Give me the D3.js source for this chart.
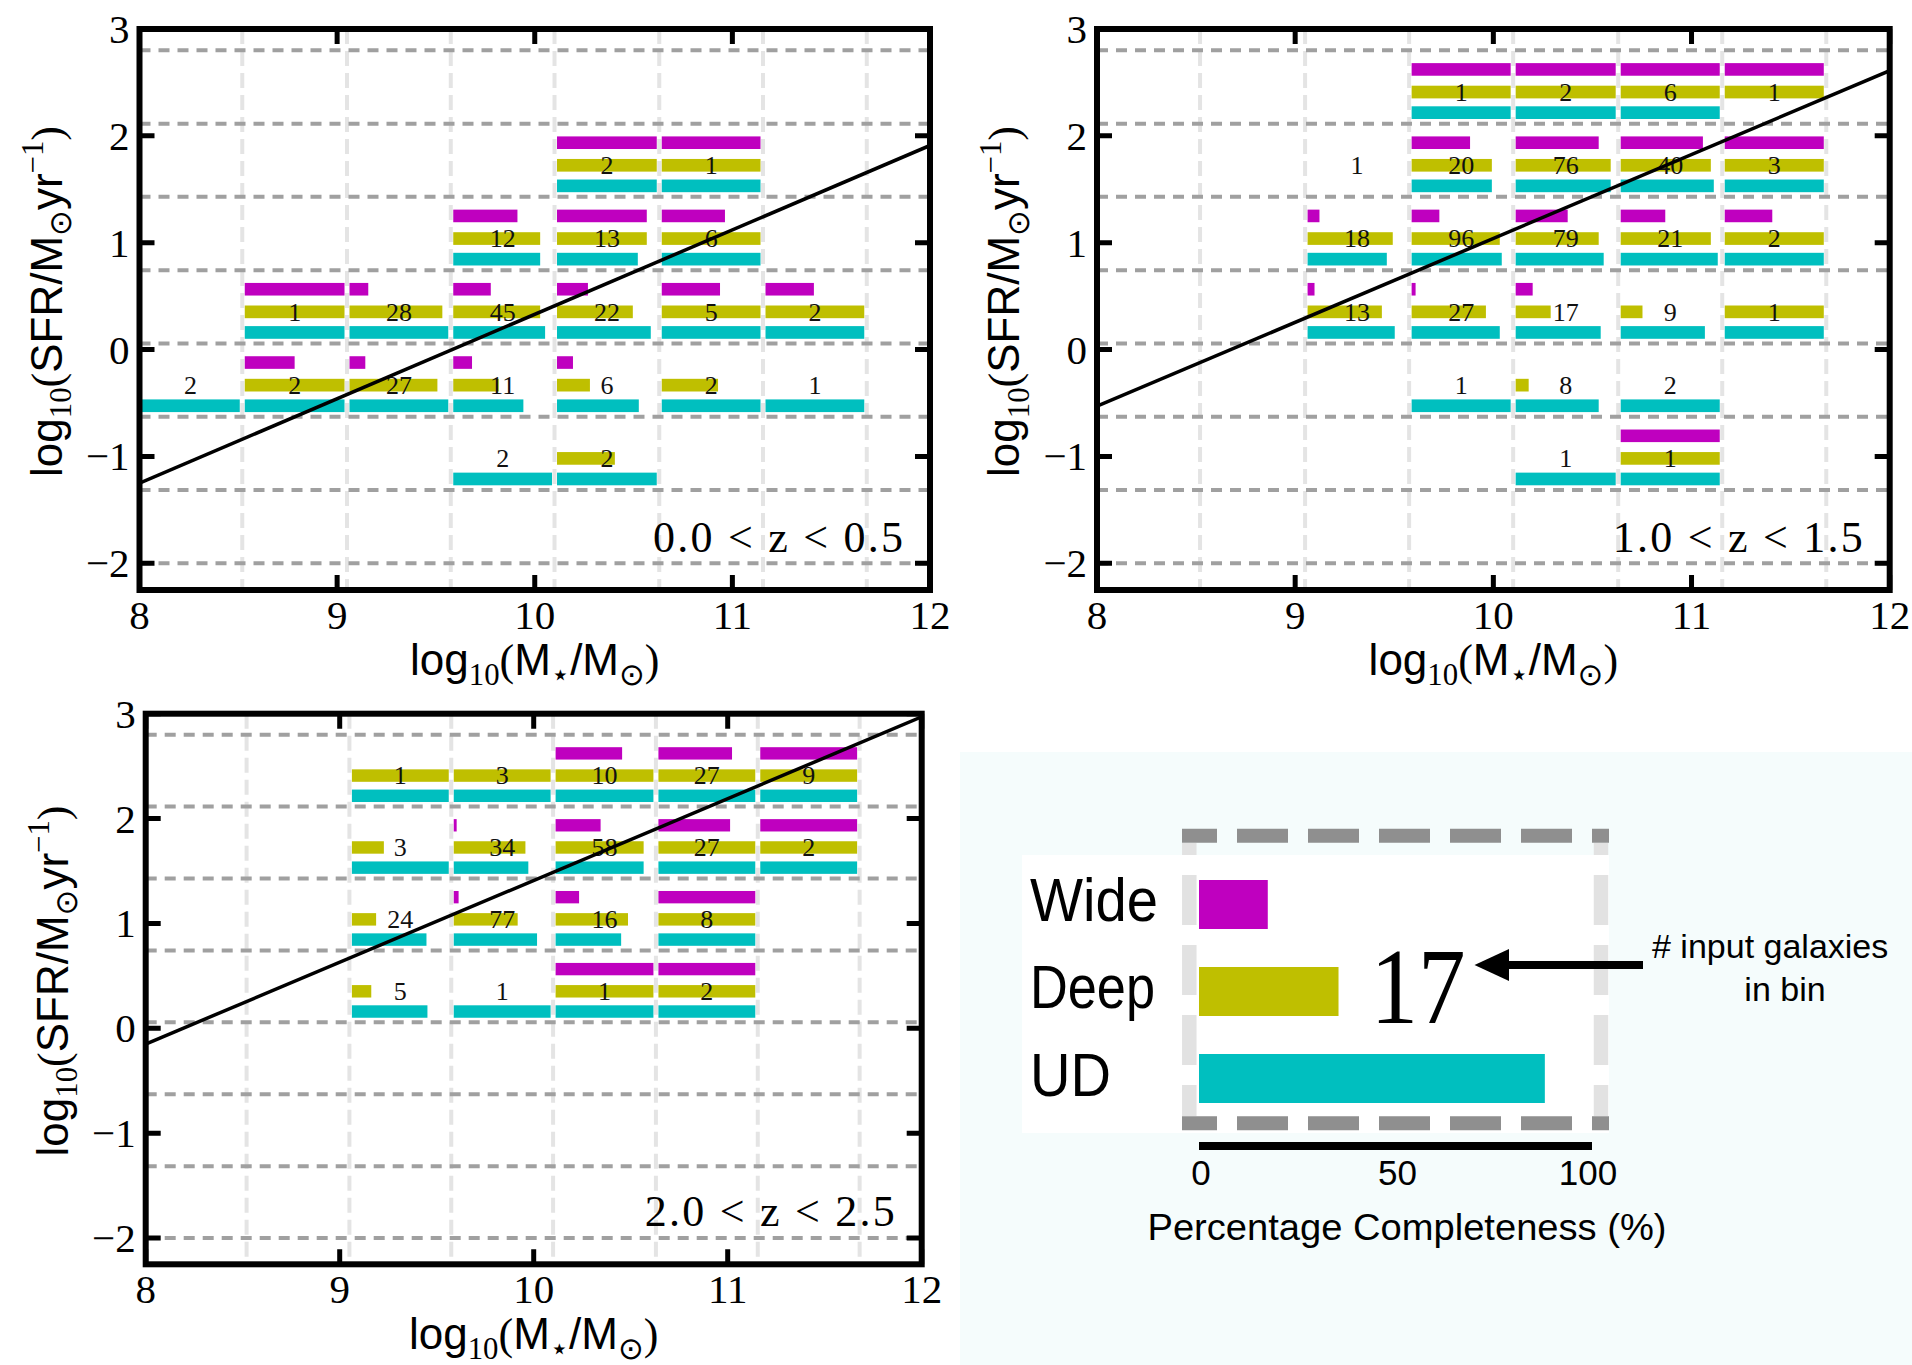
<!DOCTYPE html>
<html>
<head>
<meta charset="utf-8">
<script src="https://cdn.jsdelivr.net/npm/d3@7"></script>
<style>body{margin:0;background:#fff}</style>
</head>
<body>
<div id="chart"></div>
<script>
// Completeness grid in the SFR - stellar mass plane, three redshift slices + legend
const W = 1912, H = 1365;
const SERIF = "'Liberation Serif', 'DejaVu Serif', serif";
const SANS = "'Liberation Sans', 'DejaVu Sans', sans-serif";

// bin edges (log M*, log SFR)
const xEdges = [7.995, 8.52, 9.05, 9.575, 10.1, 10.63, 11.155, 11.68];
const yEdges = [-2.0, -1.314, -0.629, 0.057, 0.743, 1.429, 2.114, 2.8];
const xTicks = [8, 9, 10, 11, 12];
const yTicks = [-2, -1, 0, 1, 2, 3];

// cells: [col, row, n input galaxies, Wide %, Deep %, UD %]
const cellsZ1 = [
  [4, 5, 2, 100, 100, 100], [5, 5, 1, 100, 100, 100],
  [3, 4, 12, 65, 88, 88], [4, 4, 13, 90, 90, 81], [5, 4, 6, 64, 100, 100],
  [1, 3, 1, 100, 100, 100], [2, 3, 28, 19, 94, 100], [3, 3, 45, 38, 88, 93],
  [4, 3, 22, 31, 76, 94], [5, 3, 5, 59, 100, 100], [6, 3, 2, 49, 100, 100],
  [0, 2, 2, 0, 0, 100], [1, 2, 2, 50, 100, 100], [2, 2, 27, 16, 89, 100],
  [3, 2, 11, 19, 46, 71], [4, 2, 6, 16, 33, 82], [5, 2, 2, 0, 57, 100], [6, 2, 1, 0, 0, 100],
  [3, 1, 2, 0, 0, 100], [4, 1, 2, 0, 58, 100]
];
const cellsZ2 = [
  [3, 6, 1, 100, 100, 100], [4, 6, 2, 100, 100, 100], [5, 6, 6, 100, 100, 100], [6, 6, 1, 100, 100, 0],
  [2, 5, 1, 0, 0, 0], [3, 5, 20, 59, 81, 81], [4, 5, 76, 83, 95, 95], [5, 5, 40, 83, 91, 94], [6, 5, 3, 100, 100, 100],
  [2, 4, 18, 12, 86, 80], [3, 4, 96, 28, 89, 91], [4, 4, 79, 52, 83, 88], [5, 4, 21, 45, 91, 98], [6, 4, 2, 48, 100, 100],
  [2, 3, 13, 7, 75, 88], [3, 3, 27, 4, 75, 89], [4, 3, 17, 17, 35, 85], [5, 3, 9, 0, 22, 85], [6, 3, 1, 0, 100, 100],
  [3, 2, 1, 0, 0, 100], [4, 2, 8, 0, 13, 83], [5, 2, 2, 0, 0, 100],
  [4, 1, 1, 0, 0, 100], [5, 1, 1, 100, 100, 100]
];
const cellsZ3 = [
  [2, 6, 1, 0, 100, 100], [3, 6, 3, 0, 100, 100], [4, 6, 10, 68, 100, 100], [5, 6, 27, 76, 100, 100], [6, 6, 9, 100, 100, 100],
  [2, 5, 3, 0, 33, 100], [3, 5, 34, 3, 74, 77], [4, 5, 58, 46, 90, 90], [5, 5, 27, 74, 100, 100], [6, 5, 2, 100, 100, 100],
  [2, 4, 24, 0, 25, 77], [3, 4, 77, 5, 66, 86], [4, 4, 16, 24, 74, 67], [5, 4, 8, 100, 100, 100],
  [2, 3, 5, 0, 20, 78], [3, 3, 1, 0, 0, 100], [4, 3, 1, 100, 100, 100], [5, 3, 2, 100, 100, 100]
];
const zLabels = ["0.0 < z < 0.5", "1.0 < z < 1.5", "2.0 < z < 2.5"];
// main-sequence line: log SFR at log M* = 8 and 12
const msAt8 = [-1.25, -0.53, -0.15];
const msAt12 = [1.91, 2.61, 2.97];

// legend example cell
const surveys = ["Wide", "Deep", "UD"];
const surveyColors = ["#bf00bf", "#bfbf00", "#00bfbf"];
const legendPct = [17.5, 35.5, 88];
const legendCount = 17;
const pctTicks = [0, 50, 100];

const svg = d3.select("#chart").append("svg")
  .attr("width", W).attr("height", H)
  .attr("viewBox", `0 0 ${W} ${H}`);

svg.append("rect").attr("width", W).attr("height", H).attr("fill", "#fff");

// pixel boxes of the three panels
const panels = [
  {cells: cellsZ1, l: 139.5, r: 930, t: 29, b: 590},
  {cells: cellsZ2, l: 1097, r: 1889.7, t: 29, b: 590},
  {cells: cellsZ3, l: 145.7, r: 921.7, t: 713.7, b: 1264.3}
];

// vertical position of the three bars inside a row (fraction from row top)
const barFrac = [[0.174, 0.346], [0.482, 0.655], [0.763, 0.936]];

function addMath(sel, parts, size) {
  let shift = 0;
  parts.forEach(p => {
    const target = p.sub ? size * 0.22 : p.sup ? -size * 0.42 : 0;
    sel.append("tspan")
      .attr("dy", target - shift)
      .attr("font-family", p.serif ? SERIF : SANS)
      .attr("font-size", (p.sub || p.sup) ? size * 0.7 : size)
      .text(p.t);
    shift = target;
  });
}

const xLabelParts = [
  {t: "log"}, {t: "10", sub: true, serif: true}, {t: "(", serif: true}, {t: "M"},
  {t: "\u22C6", sub: true}, {t: "/M"}, {t: "\u2299", sub: true}, {t: ")", serif: true}
];
const yLabelParts = [
  {t: "log"}, {t: "10", sub: true, serif: true}, {t: "(", serif: true}, {t: "SFR/M"},
  {t: "\u2299", sub: true}, {t: "yr"}, {t: "\u22121", sup: true, serif: true}, {t: ")", serif: true}
];

panels.forEach((p, pi) => {
  const x = d3.scaleLinear().domain([8, 12]).range([p.l, p.r]);
  const y = d3.scaleLinear().domain([-2.25, 3]).range([p.b, p.t]);
  const g = svg.append("g");

  const clipId = `clip${pi}`;
  svg.append("clipPath").attr("id", clipId).append("rect")
    .attr("x", p.l).attr("y", p.t).attr("width", p.r - p.l).attr("height", p.b - p.t);

  // bin edges
  g.append("g").selectAll("line").data(xEdges.slice(1)).join("line")
    .attr("x1", d => x(d)).attr("x2", d => x(d))
    .attr("y1", p.t).attr("y2", p.b)
    .attr("stroke", "#e4e4e4").attr("stroke-width", 4).attr("stroke-dasharray", "15,7");
  g.append("g").selectAll("line").data(yEdges).join("line")
    .attr("x1", p.l).attr("x2", p.r)
    .attr("y1", d => y(d)).attr("y2", d => y(d))
    .attr("stroke", "#a0a0a0").attr("stroke-width", 4).attr("stroke-dasharray", "11,8");

  // completeness bars
  const bars = [];
  p.cells.forEach(c => {
    const x0 = x(xEdges[c[0]]) + 2.5;
    const full = x(xEdges[c[0] + 1]) - x(xEdges[c[0]]) - 5;
    const yTop = y(yEdges[c[1] + 1]);
    const h = y(yEdges[c[1]]) - yTop;
    const w = d3.scaleLinear().domain([0, 100]).range([0, full]);
    [c[3], c[4], c[5]].forEach((v, k) => {
      if (v > 0) bars.push({x: x0, w: w(v), y: yTop + barFrac[k][0] * h,
        h: (barFrac[k][1] - barFrac[k][0]) * h, fill: surveyColors[k]});
    });
  });
  g.append("g").attr("clip-path", `url(#${clipId})`).selectAll("rect").data(bars).join("rect")
    .attr("x", d => d.x).attr("y", d => d.y).attr("width", d => d.w).attr("height", d => d.h)
    .attr("fill", d => d.fill);

  // counts
  g.append("g").selectAll("text").data(p.cells).join("text")
    .attr("x", d => (x(xEdges[d[0]]) + x(xEdges[d[0] + 1])) / 2)
    .attr("y", d => {
      const yTop = y(yEdges[d[1] + 1]);
      const h = y(yEdges[d[1]]) - yTop;
      return yTop + (barFrac[1][0] + barFrac[1][1]) / 2 * h;
    })
    .attr("dy", "0.34em")
    .attr("text-anchor", "middle").attr("font-family", SERIF).attr("font-size", 26)
    .attr("fill", "#111").text(d => d[2]);

  // main sequence
  g.append("line").attr("clip-path", `url(#${clipId})`)
    .attr("x1", x(8)).attr("y1", y(msAt8[pi])).attr("x2", x(12)).attr("y2", y(msAt12[pi]))
    .attr("stroke", "#000").attr("stroke-width", 3.5);

  // ticks on all four sides, pointing inward
  const tl = 15;
  g.append("g").selectAll("path").data(xTicks).join("path")
    .attr("d", d => `M${x(d)},${p.b}V${p.b - tl}M${x(d)},${p.t}V${p.t + tl}`)
    .attr("stroke", "#000").attr("stroke-width", 5);
  g.append("g").selectAll("path").data(yTicks).join("path")
    .attr("d", d => `M${p.l},${y(d)}H${p.l + tl}M${p.r},${y(d)}H${p.r - tl}`)
    .attr("stroke", "#000").attr("stroke-width", 5);

  g.append("rect").attr("x", p.l).attr("y", p.t).attr("width", p.r - p.l).attr("height", p.b - p.t)
    .attr("fill", "none").attr("stroke", "#000").attr("stroke-width", 6);

  // tick labels
  g.append("g").selectAll("text").data(xTicks).join("text")
    .attr("x", d => x(d)).attr("y", p.b + 39)
    .attr("text-anchor", "middle").attr("font-family", SERIF).attr("font-size", 41)
    .text(d => d);
  g.append("g").selectAll("text").data(yTicks).join("text")
    .attr("x", p.l - 10).attr("y", d => y(d)).attr("dy", "0.34em")
    .attr("text-anchor", "end").attr("font-family", SERIF).attr("font-size", 41)
    .text(d => d < 0 ? "\u2212" + Math.abs(d) : d);

  // redshift label
  g.append("text").attr("x", p.r - 27).attr("y", p.b - 38)
    .attr("text-anchor", "end").attr("font-family", SERIF).attr("font-size", 44)
    .attr("textLength", 250).attr("lengthAdjust", "spacing")
    .text(zLabels[pi]);

  // axis labels
  const xl = g.append("text").attr("x", (p.l + p.r) / 2).attr("y", p.b + 85)
    .attr("text-anchor", "middle");
  addMath(xl, xLabelParts, 44);
  const yl = g.append("text")
    .attr("transform", `translate(${p.l - 78},${(p.t + p.b) / 2 - 8}) rotate(-90)`)
    .attr("text-anchor", "middle");
  addMath(yl, yLabelParts, 44);
});

// ---- legend panel ----
const lg = svg.append("g");
lg.append("rect").attr("x", 960).attr("y", 752).attr("width", W - 960).attr("height", H - 752)
  .attr("fill", "#f5fcfc");
lg.append("rect").attr("x", 1022).attr("y", 855).attr("width", 587).attr("height", 278)
  .attr("fill", "#fff");

const pct = d3.scaleLinear().domain([0, 100]).range([1199, 1592]);
const rowY = d3.scalePoint().domain(surveys).range([904.5, 1078.5]);

// enlarged cell borders
[835.7, 1123.3].forEach(yy => {
  lg.append("line").attr("x1", 1182).attr("x2", 1609).attr("y1", yy).attr("y2", yy)
    .attr("stroke", "#8f8f8f").attr("stroke-width", 14)
    .attr("stroke-dasharray", "51,20").attr("stroke-dashoffset", 16);
});
[1189.3, 1601].forEach(xx => {
  lg.append("line").attr("x1", xx).attr("x2", xx).attr("y1", 843).attr("y2", 1116)
    .attr("stroke", "#e2e2e2").attr("stroke-width", 14.5)
    .attr("stroke-dasharray", "50,20").attr("stroke-dashoffset", 38);
});

lg.selectAll("rect.lbar").data(surveys).join("rect").attr("class", "lbar")
  .attr("x", pct(0)).attr("y", d => rowY(d) - 24.5)
  .attr("width", (d, i) => pct(legendPct[i]) - pct(0)).attr("height", 49)
  .attr("fill", (d, i) => surveyColors[i]);

const nameWidths = [128, 125, 81];
lg.selectAll("text.lname").data(surveys).join("text").attr("class", "lname")
  .attr("x", 1030).attr("y", d => rowY(d) + 16 + (d === "UD" ? 1 : 0))
  .attr("font-family", SANS).attr("font-size", 62)
  .attr("textLength", (d, i) => nameWidths[i]).attr("lengthAdjust", "spacingAndGlyphs")
  .text(d => d);

lg.append("text").attr("x", 1418).attr("y", 1023).attr("text-anchor", "middle")
  .attr("font-family", SERIF).attr("font-size", 108)
  .attr("textLength", 95).attr("lengthAdjust", "spacingAndGlyphs")
  .text(legendCount);

// arrow
lg.append("line").attr("x1", 1643).attr("x2", 1500).attr("y1", 965).attr("y2", 965)
  .attr("stroke", "#000").attr("stroke-width", 8);
lg.append("path").attr("d", "M1474.5,965L1509,949L1509,981Z").attr("fill", "#000");
lg.append("text").attr("x", 1652).attr("y", 958).attr("font-family", SANS).attr("font-size", 34)
  .text("# input galaxies");
lg.append("text").attr("x", 1785).attr("y", 1001).attr("text-anchor", "middle")
  .attr("font-family", SANS).attr("font-size", 34).text("in bin");

// percentage axis
lg.append("line").attr("x1", pct(0)).attr("x2", pct(100)).attr("y1", 1146).attr("y2", 1146)
  .attr("stroke", "#000").attr("stroke-width", 8);
lg.selectAll("text.ptick").data(pctTicks).join("text").attr("class", "ptick")
  .attr("x", d => pct(d) - (d === 100 ? 4 : -2)).attr("y", 1185).attr("text-anchor", "middle")
  .attr("font-family", SANS).attr("font-size", 35).text(d => d);
lg.append("text").attr("x", 1407).attr("y", 1240).attr("text-anchor", "middle")
  .attr("font-family", SANS).attr("font-size", 36)
  .attr("textLength", 519).attr("lengthAdjust", "spacingAndGlyphs")
  .text("Percentage Completeness (%)");
</script>
</body>
</html>
